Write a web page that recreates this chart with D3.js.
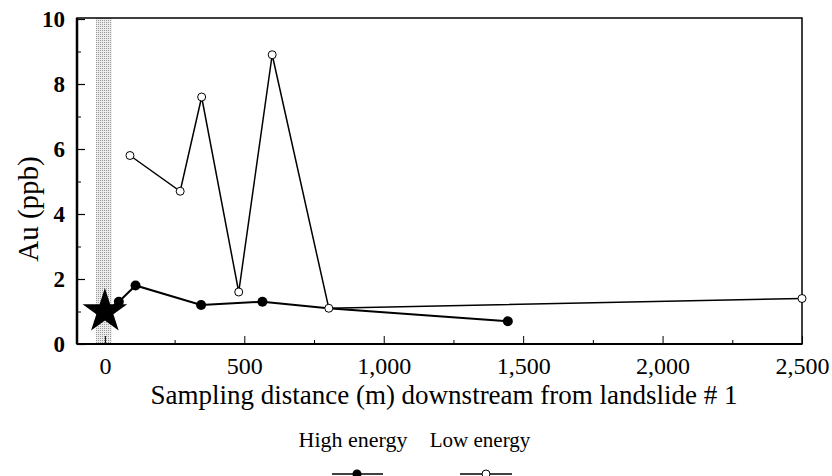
<!DOCTYPE html>
<html><head><meta charset="utf-8">
<script src="https://cdn.jsdelivr.net/npm/d3@7"></script>
<style>
html,body{margin:0;padding:0;background:#fff;}
svg{display:block;}
svg text{font-family:"Liberation Serif","Tinos","Times New Roman","DejaVu Serif",serif !important;fill:#000;}
</style></head>
<body>
<svg id="chart" width="832" height="476"></svg>
<script>
// Data
const highX = [0, 50, 110, 345, 565, 800, 1445];
const highY = [1.0, 1.3, 1.8, 1.2, 1.3, 1.1, 0.7];
const highMarked = [false, true, true, true, true, false, true];
const lowX = [90, 270, 347, 480, 600, 803, 2500];
const lowY = [5.8, 4.7, 7.6, 1.6, 8.9, 1.1, 1.4];
const starPoint = {x: 0, y: 1.0};
const bandRange = [-32, 25];
const xTicks = [0, 500, 1000, 1500, 2000, 2500];
const xMinor = [250, 750, 1250, 1750, 2250];
const yTicks = [0, 2, 4, 6, 8, 10];
const yMinor = [1, 3, 5, 7, 9];
const seriesNames = ["High energy", "Low energy"];

const svg = d3.select("#chart");
const L = 77, R = 802, T = 18, B = 344;
const x = d3.scaleLinear().domain([-100, 2500]).range([L, R]);
const y = d3.scaleLinear().domain([0, 10]).range([B, 19]);

// stipple pattern
const defs = svg.append("defs");
const pat = defs.append("pattern").attr("id","dots").attr("width",2).attr("height",2)
  .attr("patternUnits","userSpaceOnUse");
pat.append("rect").attr("width",2).attr("height",2).attr("fill","#ececec");
pat.append("rect").attr("width",1).attr("height",1).attr("fill","#999");

svg.append("rect").attr("x", x(bandRange[0])).attr("y", T)
  .attr("width", x(bandRange[1]) - x(bandRange[0])).attr("height", B - T)
  .attr("fill", "url(#dots)");

// frame
svg.append("rect").attr("x", L).attr("y", T).attr("width", R - L).attr("height", B - T)
  .attr("fill","none").attr("stroke","#000").attr("stroke-width",1.5);
svg.append("line").attr("x1",L).attr("x2",L).attr("y1",T).attr("y2",B)
  .attr("stroke","#000").attr("stroke-width",2.5);
svg.append("line").attr("x1",L).attr("x2",R).attr("y1",B).attr("y2",B)
  .attr("stroke","#000").attr("stroke-width",2);

// axes
const yAxis = d3.axisLeft(y).tickValues(yTicks).tickSize(-8).tickPadding(12).tickFormat(d3.format("d"));
const gy = svg.append("g").attr("transform", `translate(${L},0)`).call(yAxis);
gy.select(".domain").remove();
gy.selectAll("line").attr("stroke-width",1.2);
gy.selectAll("text").attr("font-size",23).attr("font-weight","bold");
const gyMinor = svg.append("g").attr("transform", `translate(${L},0)`)
  .call(d3.axisLeft(y).tickValues(yMinor).tickSize(-4).tickFormat(""));
gyMinor.select(".domain").remove();

const xAxis = d3.axisBottom(x).tickValues(xTicks).tickSize(-8).tickPadding(12).tickFormat(d3.format(","));
const gx = svg.append("g").attr("transform", `translate(0,${B})`).call(xAxis);
gx.select(".domain").remove();
gx.selectAll("text").attr("font-size",24).attr("dy", null).attr("y", 30);
const gxMinor = svg.append("g").attr("transform", `translate(0,${B})`)
  .call(d3.axisBottom(x).tickValues(xMinor).tickSize(-4).tickFormat(""));
gxMinor.select(".domain").remove();

// axis titles
svg.append("text").attr("x", 444).attr("y", 404).attr("text-anchor","middle")
  .attr("font-size", 27).text("Sampling distance (m) downstream from landslide # 1");
svg.append("text").attr("transform", "translate(38,209) rotate(-90)").attr("text-anchor","middle")
  .attr("font-size", 29).text("Au (ppb)");

// lines
const lineGen = d3.line().x(d => x(d[0])).y(d => y(d[1]));
const highData = highX.map((v,i) => [v, highY[i], highMarked[i]]);
const lowData = lowX.map((v,i) => [v, lowY[i]]);
svg.append("path").attr("d", lineGen(lowData)).attr("fill","none").attr("stroke","#000").attr("stroke-width",1.5);
svg.append("path").attr("d", lineGen(highData)).attr("fill","none").attr("stroke","#000").attr("stroke-width",2);

svg.selectAll("circle.low").data(lowData).enter().append("circle").attr("class","low")
  .attr("cx", d => x(d[0])).attr("cy", d => y(d[1])).attr("r", 4)
  .attr("fill","#fff").attr("stroke","#000").attr("stroke-width",1);
svg.selectAll("circle.high").data(highData.filter(d => d[2])).enter().append("circle").attr("class","high")
  .attr("cx", d => x(d[0])).attr("cy", d => y(d[1])).attr("r", 5)
  .attr("fill","#000");

// star
const star = d3.symbol().type(d3.symbolStar).size(620);
svg.append("path").attr("d", star()).attr("transform", `translate(${x(starPoint.x)},${y(starPoint.y)})`)
  .attr("fill","#000");

// legend
svg.append("text").attr("x", 353).attr("y", 447).attr("text-anchor","middle").attr("font-size",22).text(seriesNames[0]);
svg.append("text").attr("x", 480).attr("y", 447).attr("text-anchor","middle").attr("font-size",21).text(seriesNames[1]);
svg.append("line").attr("x1",332).attr("x2",383).attr("y1",474).attr("y2",474).attr("stroke","#000").attr("stroke-width",1.5);
svg.append("circle").attr("cx",357).attr("cy",474).attr("r",4.5).attr("fill","#000");
svg.append("line").attr("x1",460).attr("x2",512).attr("y1",474).attr("y2",474).attr("stroke","#000").attr("stroke-width",1.5);
svg.append("circle").attr("cx",486).attr("cy",474).attr("r",4).attr("fill","#fff").attr("stroke","#000");
</script>
</body></html>
